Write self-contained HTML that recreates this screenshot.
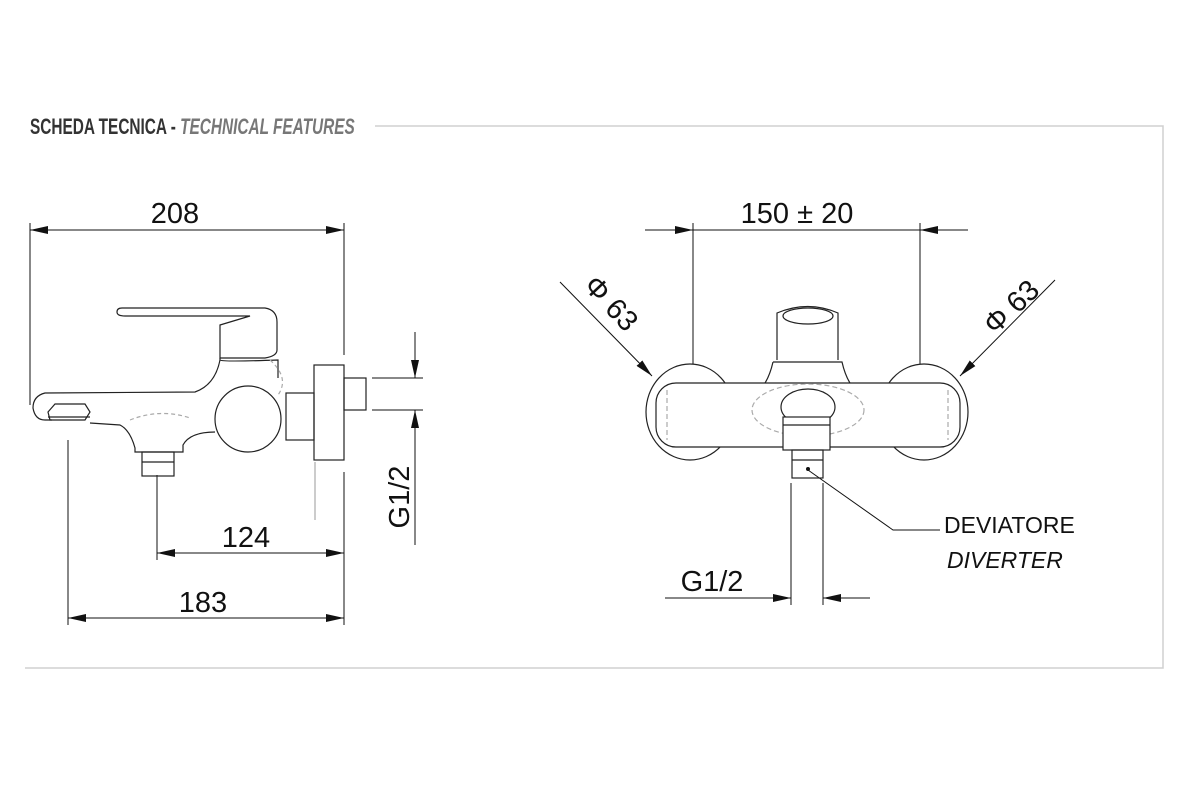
<!DOCTYPE html>
<html><head><meta charset="utf-8"><style>
html,body{margin:0;padding:0;background:#fff;}
svg{display:block;}
.t{font-family:"Liberation Sans",sans-serif;fill:#111;}
</style></head><body>
<svg width="1200" height="800" viewBox="0 0 1200 800" xmlns="http://www.w3.org/2000/svg">
<defs>
<marker id="a" viewBox="0 0 18 8" refX="18" refY="4" markerWidth="18" markerHeight="8" markerUnits="userSpaceOnUse" orient="auto-start-reverse"><path d="M0,0 L18,4 L0,8 z" fill="#111"/></marker>
</defs>
<g stroke="#d0d0d0" stroke-width="1.5" fill="none">
<path d="M375,126 H1163 V668 H25"/>
</g>
<text x="30" y="134" class="t" style="font-size:22px;font-weight:bold;fill:#333" transform="scale(0.70,1)" transform-origin="30 134">SCHEDA TECNICA - <tspan style="font-style:italic;fill:#777">TECHNICAL FEATURES</tspan></text>

<g stroke="#111" stroke-width="1" fill="none">
<line x1="30" y1="223" x2="30" y2="405"/>
<line x1="344" y1="223" x2="344" y2="355"/>
<line x1="30" y1="230" x2="344" y2="230" marker-start="url(#a)" marker-end="url(#a)"/>
<line x1="68" y1="440" x2="68" y2="625"/>
<line x1="157" y1="475" x2="157" y2="560"/>
<line x1="344" y1="472" x2="344" y2="625"/>
<line x1="315" y1="462" x2="315" y2="520" stroke="#999"/>
<line x1="157" y1="553" x2="344" y2="553" marker-start="url(#a)" marker-end="url(#a)"/>
<line x1="68" y1="618" x2="344" y2="618" marker-start="url(#a)" marker-end="url(#a)"/>
<line x1="372" y1="378" x2="423" y2="378"/>
<line x1="372" y1="410" x2="423" y2="410"/>
<line x1="415" y1="332" x2="415" y2="378" marker-end="url(#a)"/>
<line x1="415" y1="545" x2="415" y2="410" marker-end="url(#a)"/>
<g stroke="#222" stroke-width="1.2">
<path d="M122,308 H265 Q277,310 277,322 V350 Q277,356 265,358 H220 V325 L250,316 H125 Q117,316 117,312 Q117,308 122,308 Z"/>
<path d="M220,358 V360 Q222,362 278,360 L278,378"/>
<path d="M220,360 Q215,385 195,392 L45,393 Q33,396 33,408 Q35,420 45,420 L52,420"/>
<path d="M90,423 L120,425 Q130,430 135,448 L135,452 H183 L183,445 Q190,432 215,432"/>
<circle cx="248" cy="419" r="33" fill="#fff"/>
<rect x="286" y="393" width="28" height="47"/>
<rect x="314" y="365" width="30" height="95"/>
<rect x="344" y="378" width="22" height="32"/>
<rect x="142" y="452" width="32" height="24"/>
<line x1="142" y1="462" x2="174" y2="462"/>
<path d="M48,412 L55,404 H85 L90,412 L85,420 H50 Z"/>
<path d="M48,417 H90" />
<path d="M270,360 Q290,378 278,395" stroke="#aaa" stroke-dasharray="4 3"/>
<path d="M130,420 Q160,408 190,418" stroke="#aaa" stroke-dasharray="4 3"/>
</g>

<line x1="693" y1="223" x2="693" y2="405"/>
<line x1="920" y1="223" x2="920" y2="405"/>
<line x1="645" y1="230" x2="693" y2="230" marker-end="url(#a)"/>
<line x1="968" y1="230" x2="920" y2="230" marker-end="url(#a)"/>
<line x1="693" y1="230" x2="920" y2="230"/>
<line x1="560" y1="282" x2="652" y2="376" marker-end="url(#a)"/>
<line x1="1055" y1="280" x2="960" y2="376" marker-end="url(#a)"/>
<line x1="791" y1="483" x2="791" y2="605"/>
<line x1="823" y1="483" x2="823" y2="605"/>
<line x1="665" y1="598" x2="791" y2="598" marker-end="url(#a)"/>
<line x1="870" y1="598" x2="823" y2="598" marker-end="url(#a)"/>
<polyline points="808,470 893,530 940,530"/>
<circle cx="808" cy="469" r="1.5" fill="#111"/>
<g stroke="#222" stroke-width="1.2">
<ellipse cx="690" cy="412" rx="44" ry="48" fill="#fff"/>
<ellipse cx="924" cy="412" rx="44" ry="48" fill="#fff"/>
<rect x="656" y="383" width="304" height="64" rx="20" fill="#fff"/>
<line x1="667" y1="390" x2="667" y2="440" stroke="#aaa" stroke-dasharray="5 3"/>
<line x1="948" y1="390" x2="948" y2="440" stroke="#aaa" stroke-dasharray="5 3"/>
<path d="M777,360 V313 Q808,300 838,313 V360"/>
<ellipse cx="808" cy="316" rx="25" ry="8"/>
<path d="M773,362 H842 Q845,375 850,383 M773,362 Q770,375 765,383" />
<ellipse cx="808" cy="410" rx="56" ry="26" stroke="#aaa" stroke-dasharray="5 3"/>
<ellipse cx="808" cy="407" rx="27" ry="18" fill="#fff"/>
<rect x="783" y="417" width="47" height="33" fill="#fff"/>
<line x1="783" y1="425" x2="830" y2="425"/>
<rect x="792" y="450" width="31" height="28"/>
<line x1="792" y1="460" x2="823" y2="460"/>
</g>
</g>

<g class="t" style="font-size:29px">
<text x="175" y="223" text-anchor="middle">208</text>
<text x="246" y="547" text-anchor="middle">124</text>
<text x="203" y="612" text-anchor="middle">183</text>
<text x="0" y="0" text-anchor="middle" transform="translate(409,497) rotate(-90)">G1/2</text>
<text x="797" y="223" text-anchor="middle">150 ± 20</text>
<text x="712" y="591" text-anchor="middle">G1/2</text>
<text x="0" y="0" text-anchor="middle" transform="translate(604,310) rotate(47)">Φ 63</text>
<text x="0" y="0" text-anchor="middle" transform="translate(1018,314) rotate(-43)">Φ 63</text>
</g>
<g class="t" style="font-size:23px">
<text x="944" y="533">DEVIATORE</text>
<text x="947" y="568" style="font-style:italic">DIVERTER</text>
</g>
</svg>
</body></html>
